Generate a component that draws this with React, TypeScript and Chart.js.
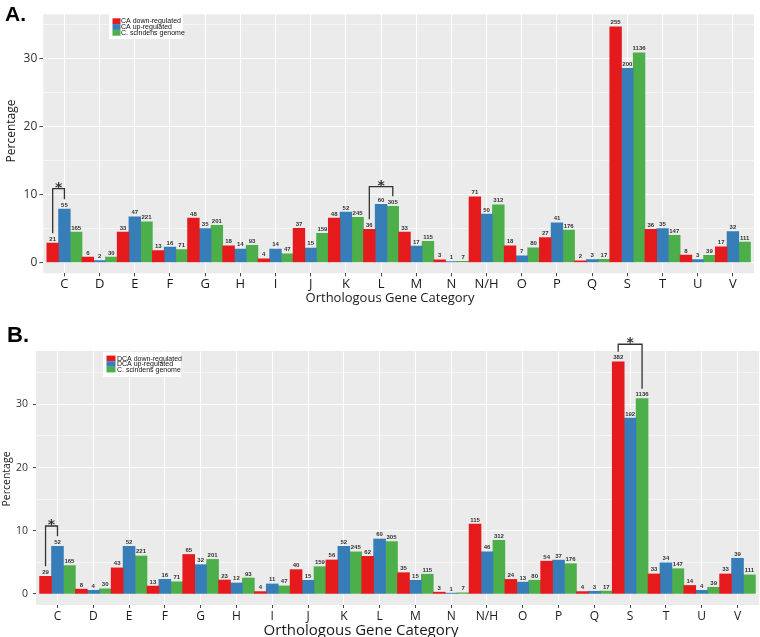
import React, { useEffect, useRef } from 'react';
import { Chart, registerables } from 'chart.js';
Chart.register(...registerables);

// ---------- data ----------
const categories = ['C', 'D', 'E', 'F', 'G', 'H', 'I', 'J', 'K', 'L', 'M', 'N', 'N/H', 'O', 'P', 'Q', 'S', 'T', 'U', 'V'];

// Panel A (CA)
const caDownCounts = [21, 6, 33, 13, 48, 18, 4, 37, 48, 36, 33, 3, 71, 18, 27, 2, 255, 36, 8, 17];
const caUpCounts = [55, 2, 47, 16, 35, 14, 14, 15, 52, 60, 17, 1, 50, 7, 41, 3, 200, 35, 3, 32];
const caDownPct = [2.86, 0.82, 4.5, 1.77, 6.54, 2.45, 0.54, 5.04, 6.54, 4.9, 4.5, 0.41, 9.67, 2.45, 3.68, 0.27, 34.74, 4.9, 1.09, 2.32];
const caUpPct = [7.87, 0.29, 6.72, 2.29, 5.01, 2.0, 2.0, 2.15, 7.44, 8.58, 2.43, 0.14, 7.15, 1.0, 5.87, 0.43, 28.61, 5.01, 0.43, 4.58];

// Genome (both panels)
const genomeCounts = [165, 30, 221, 71, 201, 93, 47, 159, 245, 305, 115, 7, 312, 80, 176, 17, 1136, 147, 39, 111];
const genomePct = [4.49, 0.82, 6.01, 1.93, 5.47, 2.53, 1.28, 4.32, 6.66, 8.29, 3.13, 0.19, 8.49, 2.18, 4.79, 0.46, 30.89, 4.0, 1.06, 3.02];

// Panel B (DCA)
const dcaDownCounts = [29, 8, 43, 13, 65, 23, 4, 40, 56, 62, 35, 3, 115, 24, 54, 4, 382, 33, 14, 33];
const dcaUpCounts = [52, 4, 52, 16, 32, 12, 11, 15, 52, 60, 15, 1, 46, 13, 37, 3, 192, 34, 4, 39];
const dcaDownPct = [2.79, 0.77, 4.13, 1.25, 6.25, 2.21, 0.38, 3.85, 5.38, 5.96, 3.37, 0.29, 11.06, 2.31, 5.19, 0.38, 36.73, 3.17, 1.35, 3.17];
const dcaUpPct = [7.54, 0.58, 7.54, 2.32, 4.64, 1.74, 1.59, 2.17, 7.54, 8.7, 2.17, 0.14, 6.67, 1.88, 5.36, 0.43, 27.83, 4.93, 0.58, 5.65];

const labelsA = ['CA down-regulated', 'CA up-regulated', 'C. scindens genome'];
const labelsB = ['DCA down-regulated', 'DCA up-regulated', 'C. scindens genome'];
const yTickLabels = [0, 10, 20, 30];

// significance brackets: category, from series, to series, level (percentage)
const bracketsA = [
  { cat: 'C', from: 0, to: 1, level: 10.9 },
  { cat: 'L', from: 0, to: 2, level: 11.2 },
];
const bracketsB = [
  { cat: 'C', from: 0, to: 1, level: 10.75 },
  { cat: 'S', from: 0, to: 2, level: 39.5 },
];

// ---------- styles ----------
const COLORS = ['#E41A1C', '#377EB8', '#4DAF4A'];
const FAMILY = '"Open Sans", "DejaVu Sans", sans-serif';

type Spec = {
  top: number; height: number;
  chartLeft: number; chartRight: number; chartTop: number; chartBottom: number;
  yMin: number; yMax: number;
  yFont: number; yTickLen: number; yPad: number;
  xFont: number; xPad: number;
  letter: string; letterX: number; letterY: number; letterSize: number;
  yTitle: { x: number; y: number; size: number };
  xTitle: { x: number; y: number; size: number };
  legend: { x: number; y: number; w: number; h: number; sw: number; row: number; first: number; text: number };
  series: { label: string; pct: number[]; counts: number[] }[];
  brackets: { cat: string; from: number; to: number; level: number }[];
};

const specA: Spec = {
  top: 0, height: 310,
  chartLeft: 43.3, chartRight: 754, chartTop: 14.3, chartBottom: 273.3,
  yMin: -1.58, yMax: 36.57,
  yFont: 12, yTickLen: 4, yPad: 2,
  xFont: 13, xPad: 0.5,
  letter: 'A.', letterX: 5, letterY: 20.5, letterSize: 21,
  yTitle: { x: 12, y: 131, size: 12 },
  xTitle: { x: 390, y: 298.5, size: 13 },
  legend: { x: 109, y: 14, w: 74, h: 25, sw: 8, row: 5.8, first: 4.3, text: 12 },
  series: [
    { label: labelsA[0], pct: caDownPct, counts: caDownCounts },
    { label: labelsA[1], pct: caUpPct, counts: caUpCounts },
    { label: labelsA[2], pct: genomePct, counts: genomeCounts },
  ],
  brackets: bracketsA,
};

const specB: Spec = {
  top: 310, height: 340,
  chartLeft: 36, chartRight: 759, chartTop: 41, chartBottom: 295,
  yMin: -1.74, yMax: 38.43,
  yFont: 10.5, yTickLen: 3, yPad: 5,
  xFont: 12, xPad: 1.5,
  letter: 'B.', letterX: 7, letterY: 32, letterSize: 22,
  yTitle: { x: 7, y: 169, size: 10.5 },
  xTitle: { x: 361, y: 321, size: 15 },
  legend: { x: 103, y: 42, w: 78, h: 25, sw: 9, row: 5.6, first: 3.6, text: 14 },
  series: [
    { label: labelsB[0], pct: dcaDownPct, counts: dcaDownCounts },
    { label: labelsB[1], pct: dcaUpPct, counts: dcaUpCounts },
    { label: labelsB[2], pct: genomePct, counts: genomeCounts },
  ],
  brackets: bracketsB,
};

function makeDecor(s: Spec) {
  return {
    id: 'decor',
    beforeDraw(chart: any) {
      const { ctx, chartArea: a } = chart;
      ctx.save();
      ctx.fillStyle = '#EBEBEB';
      ctx.fillRect(a.left, a.top, a.right - a.left, a.bottom - a.top);
      ctx.restore();
    },
    afterDatasetsDraw(chart: any) {
      const ctx = chart.ctx;
      ctx.save();
      // count labels
      ctx.fillStyle = '#333';
      ctx.font = 'bold 6px "Liberation Sans", Arial, sans-serif';
      ctx.textAlign = 'center';
      ctx.textBaseline = 'alphabetic';
      chart.data.datasets.forEach((ds: any, di: number) => {
        chart.getDatasetMeta(di).data.forEach((bar: any, i: number) => {
          ctx.fillText(String(ds.counts[i]), bar.x, bar.y - 2.5);
        });
      });
      // brackets
      const yScale = chart.scales.y;
      ctx.strokeStyle = '#333';
      ctx.lineWidth = 1.3;
      s.brackets.forEach((b) => {
        const idx = categories.indexOf(b.cat);
        const p1 = chart.getDatasetMeta(b.from).data[idx];
        const p2 = chart.getDatasetMeta(b.to).data[idx];
        const ty = yScale.getPixelForValue(b.level);
        ctx.beginPath();
        ctx.moveTo(p1.x, p1.y - 10);
        ctx.lineTo(p1.x, ty);
        ctx.lineTo(p2.x, ty);
        ctx.lineTo(p2.x, p2.y - 10);
        ctx.stroke();
        ctx.fillStyle = '#333';
        ctx.font = 'bold 14px "DejaVu Sans", sans-serif';
        ctx.textAlign = 'center';
        ctx.textBaseline = 'alphabetic';
        ctx.fillText('*', (p1.x + p2.x) / 2, ty + 3);
      });
      ctx.restore();
    },
    afterDraw(chart: any) {
      const ctx = chart.ctx;
      ctx.save();
      // legend
      const L = s.legend;
      ctx.fillStyle = '#fff';
      ctx.fillRect(L.x, L.y, L.w, L.h);
      ctx.font = '7px "Liberation Sans", Arial, sans-serif';
      ctx.textAlign = 'left';
      ctx.textBaseline = 'middle';
      chart.data.datasets.forEach((ds: any, i: number) => {
        const y0 = L.y + L.first + i * L.row;
        ctx.fillStyle = ds.backgroundColor;
        ctx.fillRect(L.x + 3.5, y0, L.sw, L.row);
        ctx.fillStyle = '#111';
        ctx.fillText(ds.label, L.x + L.text, y0 + L.row / 2 + 0.3);
      });
      // panel letter
      ctx.fillStyle = '#000';
      ctx.font = `bold ${s.letterSize}px "Liberation Sans", Arial, sans-serif`;
      ctx.textBaseline = 'alphabetic';
      ctx.textAlign = 'left';
      ctx.fillText(s.letter, s.letterX, s.letterY);
      // axis titles
      ctx.fillStyle = '#1a1a1a';
      ctx.textAlign = 'center';
      ctx.textBaseline = 'middle';
      ctx.font = `${s.xTitle.size}px ${FAMILY}`;
      ctx.fillText('Orthologous Gene Category', s.xTitle.x, s.xTitle.y);
      ctx.translate(s.yTitle.x, s.yTitle.y);
      ctx.rotate(-Math.PI / 2);
      ctx.font = `${s.yTitle.size}px ${FAMILY}`;
      ctx.fillText('Percentage', 0, 0);
      ctx.restore();
    },
  };
}

function buildConfig(s: Spec): any {
  return {
    type: 'bar',
    data: {
      datasets: s.series.map((ser, k) => ({
        label: ser.label,
        data: ser.pct.map((v, i) => ({ x: i, y: v })),
        counts: ser.counts,
        backgroundColor: COLORS[k],
        borderWidth: 0,
        categoryPercentage: 1,
        barPercentage: 1,
      })),
    },
    options: {
      responsive: false,
      animation: false,
      events: [],
      layout: { padding: { top: s.chartTop, right: 760 - s.chartRight, left: 0, bottom: 0 } },
      plugins: { legend: { display: false }, tooltip: { enabled: false } },
      scales: {
        x: {
          type: 'linear',
          min: -0.6,
          max: categories.length - 0.4,
          offset: false,
          afterFit: (sc: any) => { sc.height = s.height - s.chartBottom; },
          grid: { color: '#ffffff', lineWidth: 1, tickColor: '#444', tickLength: 3, tickWidth: 1, offset: false },
          border: { display: false },
          ticks: {
            stepSize: 1,
            includeBounds: false,
            autoSkip: false,
            maxRotation: 0,
            minRotation: 0,
            padding: s.xPad,
            color: '#1a1a1a',
            font: { family: FAMILY, size: s.xFont },
            callback: (v: number) => categories[v] ?? '',
          },
        },
        y: {
          type: 'linear',
          min: s.yMin,
          max: s.yMax,
          afterFit: (sc: any) => { sc.width = s.chartLeft; },
          grid: {
            color: '#ffffff',
            lineWidth: (c: any) => (c.tick && c.tick.value % 10 === 0 ? 1.1 : 0.5),
            tickColor: (c: any) => (c.tick && c.tick.value % 10 === 0 ? '#444' : 'rgba(0,0,0,0)'),
            tickWidth: 1,
            tickLength: s.yTickLen,
          },
          border: { display: false },
          ticks: {
            stepSize: 5,
            includeBounds: false,
            autoSkip: false,
            padding: s.yPad,
            color: '#333',
            font: { family: FAMILY, size: s.yFont },
            callback: (v: number) => (yTickLabels.includes(v) ? String(v) : ''),
          },
        },
      },
    },
    plugins: [makeDecor(s)],
  };
}

function Panel({ spec }: { spec: Spec }) {
  const ref = useRef<HTMLCanvasElement>(null);
  useEffect(() => {
    const chart = new Chart(ref.current as HTMLCanvasElement, buildConfig(spec));
    return () => chart.destroy();
  }, [spec]);
  return (
    <canvas
      ref={ref}
      width={760}
      height={spec.height}
      style={{ position: 'absolute', left: 0, top: spec.top, width: 760, height: spec.height, display: 'block' }}
    />
  );
}

export default function App() {
  return (
    <div style={{ position: 'fixed', left: 0, top: 0, width: 760, height: 637, overflow: 'hidden', background: '#fff' }}>
      <Panel spec={specA} />
      <Panel spec={specB} />
    </div>
  );
}
